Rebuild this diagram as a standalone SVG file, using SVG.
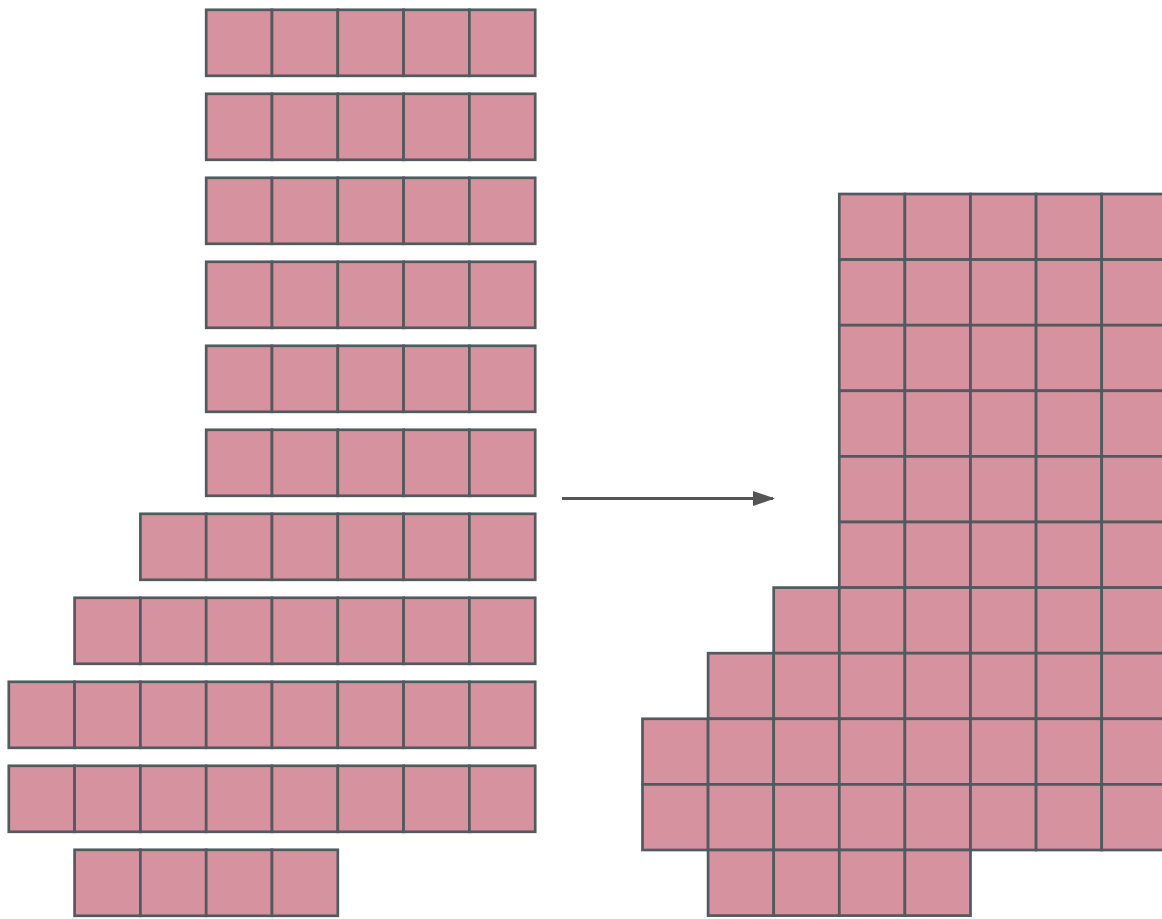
<svg xmlns="http://www.w3.org/2000/svg" xmlns:xlink="http://www.w3.org/1999/xlink" width="1162" height="919" viewBox="0 0 1162 919">
<style>
.c{fill:#d7929f;stroke:#505a5f;stroke-width:2.7}
.conn{stroke:#555;stroke-width:3;fill:none}
</style>
<defs>
<rect id="cL" class="c" width="65.8" height="66"/>
<rect id="cR" class="c" width="65.6" height="65.6"/>
<marker id="ah" viewBox="0 0 22 16" refX="20" refY="8" markerWidth="22" markerHeight="16" markerUnits="userSpaceOnUse" orient="auto">
<path d="M0,0.5 L22,8 L0,15.5 z" fill="#555"/>
</marker>
</defs>
<rect width="1162" height="919" fill="#fff"/>
<g id="row1"><use xlink:href="#cL" x="206.2" y="9.8"/><use xlink:href="#cL" x="272" y="9.8"/><use xlink:href="#cL" x="337.8" y="9.8"/><use xlink:href="#cL" x="403.6" y="9.8"/><use xlink:href="#cL" x="469.4" y="9.8"/></g>
<g id="row2"><use xlink:href="#cL" x="206.2" y="93.8"/><use xlink:href="#cL" x="272" y="93.8"/><use xlink:href="#cL" x="337.8" y="93.8"/><use xlink:href="#cL" x="403.6" y="93.8"/><use xlink:href="#cL" x="469.4" y="93.8"/></g>
<g id="row3"><use xlink:href="#cL" x="206.2" y="177.8"/><use xlink:href="#cL" x="272" y="177.8"/><use xlink:href="#cL" x="337.8" y="177.8"/><use xlink:href="#cL" x="403.6" y="177.8"/><use xlink:href="#cL" x="469.4" y="177.8"/></g>
<g id="row4"><use xlink:href="#cL" x="206.2" y="261.8"/><use xlink:href="#cL" x="272" y="261.8"/><use xlink:href="#cL" x="337.8" y="261.8"/><use xlink:href="#cL" x="403.6" y="261.8"/><use xlink:href="#cL" x="469.4" y="261.8"/></g>
<g id="row5"><use xlink:href="#cL" x="206.2" y="345.8"/><use xlink:href="#cL" x="272" y="345.8"/><use xlink:href="#cL" x="337.8" y="345.8"/><use xlink:href="#cL" x="403.6" y="345.8"/><use xlink:href="#cL" x="469.4" y="345.8"/></g>
<g id="row6"><use xlink:href="#cL" x="206.2" y="429.8"/><use xlink:href="#cL" x="272" y="429.8"/><use xlink:href="#cL" x="337.8" y="429.8"/><use xlink:href="#cL" x="403.6" y="429.8"/><use xlink:href="#cL" x="469.4" y="429.8"/></g>
<g id="row7"><use xlink:href="#cL" x="140.4" y="513.8"/><use xlink:href="#cL" x="206.2" y="513.8"/><use xlink:href="#cL" x="272" y="513.8"/><use xlink:href="#cL" x="337.8" y="513.8"/><use xlink:href="#cL" x="403.6" y="513.8"/><use xlink:href="#cL" x="469.4" y="513.8"/></g>
<g id="row8"><use xlink:href="#cL" x="74.6" y="597.8"/><use xlink:href="#cL" x="140.4" y="597.8"/><use xlink:href="#cL" x="206.2" y="597.8"/><use xlink:href="#cL" x="272" y="597.8"/><use xlink:href="#cL" x="337.8" y="597.8"/><use xlink:href="#cL" x="403.6" y="597.8"/><use xlink:href="#cL" x="469.4" y="597.8"/></g>
<g id="row9"><use xlink:href="#cL" x="8.8" y="681.8"/><use xlink:href="#cL" x="74.6" y="681.8"/><use xlink:href="#cL" x="140.4" y="681.8"/><use xlink:href="#cL" x="206.2" y="681.8"/><use xlink:href="#cL" x="272" y="681.8"/><use xlink:href="#cL" x="337.8" y="681.8"/><use xlink:href="#cL" x="403.6" y="681.8"/><use xlink:href="#cL" x="469.4" y="681.8"/></g>
<g id="row10"><use xlink:href="#cL" x="8.8" y="765.8"/><use xlink:href="#cL" x="74.6" y="765.8"/><use xlink:href="#cL" x="140.4" y="765.8"/><use xlink:href="#cL" x="206.2" y="765.8"/><use xlink:href="#cL" x="272" y="765.8"/><use xlink:href="#cL" x="337.8" y="765.8"/><use xlink:href="#cL" x="403.6" y="765.8"/><use xlink:href="#cL" x="469.4" y="765.8"/></g>
<g id="row11"><use xlink:href="#cL" x="74.6" y="849.8"/><use xlink:href="#cL" x="140.4" y="849.8"/><use xlink:href="#cL" x="206.2" y="849.8"/><use xlink:href="#cL" x="272" y="849.8"/></g>
<g id="connectors"><line class="conn" x1="562" y1="498.5" x2="773" y2="498.5" marker-end="url(#ah)"/></g>
<g id="result">
<use xlink:href="#cR" x="839.3" y="194"/><use xlink:href="#cR" x="904.9" y="194"/><use xlink:href="#cR" x="970.5" y="194"/><use xlink:href="#cR" x="1036.1" y="194"/><use xlink:href="#cR" x="1101.7" y="194"/>
<use xlink:href="#cR" x="839.3" y="259.6"/><use xlink:href="#cR" x="904.9" y="259.6"/><use xlink:href="#cR" x="970.5" y="259.6"/><use xlink:href="#cR" x="1036.1" y="259.6"/><use xlink:href="#cR" x="1101.7" y="259.6"/>
<use xlink:href="#cR" x="839.3" y="325.2"/><use xlink:href="#cR" x="904.9" y="325.2"/><use xlink:href="#cR" x="970.5" y="325.2"/><use xlink:href="#cR" x="1036.1" y="325.2"/><use xlink:href="#cR" x="1101.7" y="325.2"/>
<use xlink:href="#cR" x="839.3" y="390.8"/><use xlink:href="#cR" x="904.9" y="390.8"/><use xlink:href="#cR" x="970.5" y="390.8"/><use xlink:href="#cR" x="1036.1" y="390.8"/><use xlink:href="#cR" x="1101.7" y="390.8"/>
<use xlink:href="#cR" x="839.3" y="456.4"/><use xlink:href="#cR" x="904.9" y="456.4"/><use xlink:href="#cR" x="970.5" y="456.4"/><use xlink:href="#cR" x="1036.1" y="456.4"/><use xlink:href="#cR" x="1101.7" y="456.4"/>
<use xlink:href="#cR" x="839.3" y="522"/><use xlink:href="#cR" x="904.9" y="522"/><use xlink:href="#cR" x="970.5" y="522"/><use xlink:href="#cR" x="1036.1" y="522"/><use xlink:href="#cR" x="1101.7" y="522"/>
<use xlink:href="#cR" x="773.7" y="587.6"/><use xlink:href="#cR" x="839.3" y="587.6"/><use xlink:href="#cR" x="904.9" y="587.6"/><use xlink:href="#cR" x="970.5" y="587.6"/><use xlink:href="#cR" x="1036.1" y="587.6"/><use xlink:href="#cR" x="1101.7" y="587.6"/>
<use xlink:href="#cR" x="708.1" y="653.2"/><use xlink:href="#cR" x="773.7" y="653.2"/><use xlink:href="#cR" x="839.3" y="653.2"/><use xlink:href="#cR" x="904.9" y="653.2"/><use xlink:href="#cR" x="970.5" y="653.2"/><use xlink:href="#cR" x="1036.1" y="653.2"/><use xlink:href="#cR" x="1101.7" y="653.2"/>
<use xlink:href="#cR" x="642.5" y="718.8"/><use xlink:href="#cR" x="708.1" y="718.8"/><use xlink:href="#cR" x="773.7" y="718.8"/><use xlink:href="#cR" x="839.3" y="718.8"/><use xlink:href="#cR" x="904.9" y="718.8"/><use xlink:href="#cR" x="970.5" y="718.8"/><use xlink:href="#cR" x="1036.1" y="718.8"/><use xlink:href="#cR" x="1101.7" y="718.8"/>
<use xlink:href="#cR" x="642.5" y="784.4"/><use xlink:href="#cR" x="708.1" y="784.4"/><use xlink:href="#cR" x="773.7" y="784.4"/><use xlink:href="#cR" x="839.3" y="784.4"/><use xlink:href="#cR" x="904.9" y="784.4"/><use xlink:href="#cR" x="970.5" y="784.4"/><use xlink:href="#cR" x="1036.1" y="784.4"/><use xlink:href="#cR" x="1101.7" y="784.4"/>
<use xlink:href="#cR" x="708.1" y="850"/><use xlink:href="#cR" x="773.7" y="850"/><use xlink:href="#cR" x="839.3" y="850"/><use xlink:href="#cR" x="904.9" y="850"/>
</g>
</svg>
